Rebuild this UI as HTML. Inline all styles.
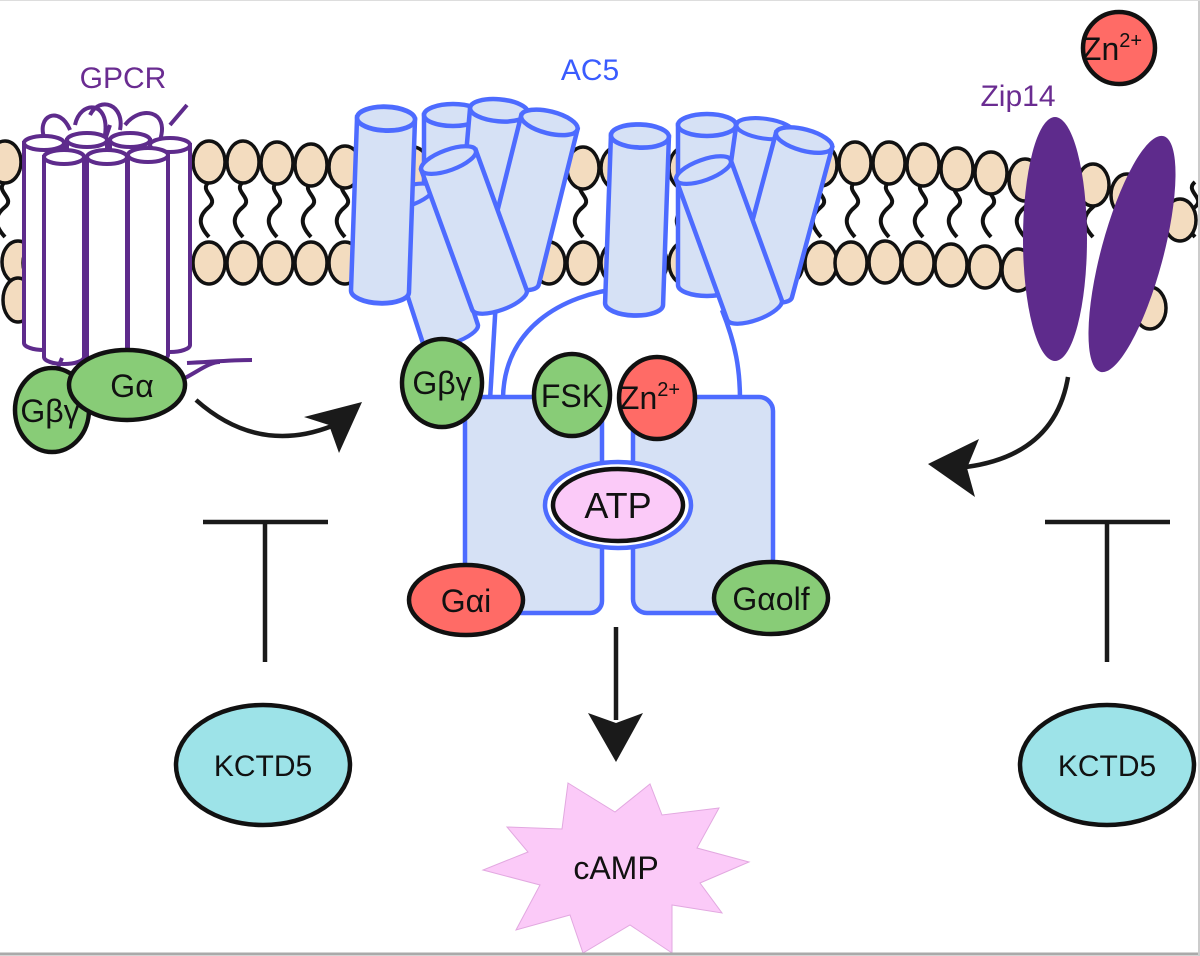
<!DOCTYPE html>
<html><head><meta charset="utf-8"><style>
html,body{margin:0;padding:0;background:#fff}
svg{display:block}
text{font-family:"Liberation Sans",sans-serif}
</style></head><body>
<svg width="1200" height="956" viewBox="0 0 1200 956" xmlns="http://www.w3.org/2000/svg">
<defs>
<g id="head"><ellipse cx="0" cy="0" rx="16" ry="21" fill="#f3dcbf" stroke="#111" stroke-width="3.5"/></g>
<path id="tail" d="M0,182 c-11,9 11,16 0,25 s-11,18 0,30" fill="none" stroke="#111" stroke-width="4"/>
<g id="cyl" fill="#d6e1f5" stroke="#4d6bff" stroke-width="4.5">
<path d="M-29,-80 L-29,80 A29,11 0 0 0 29,80 L29,-80 Z"/>
<ellipse cx="0" cy="-80" rx="29" ry="11"/>
</g>
<g id="pcyl" fill="#fff" stroke="#5e2b8c" stroke-width="4">
<path d="M-20,-100 L-20,100 A20,7 0 0 0 20,100 L20,-100 Z"/>
<ellipse cx="0" cy="-100" rx="20" ry="7"/>
</g>
</defs>
<rect x="0" y="0" width="1200" height="956" fill="#fff"/>

<!-- membrane tails -->
<g>
<use href="#tail" x="5"/><use href="#tail" x="39"/><use href="#tail" x="73"/><use href="#tail" x="107"/><use href="#tail" x="141"/><use href="#tail" x="175"/><use href="#tail" x="209"/><use href="#tail" x="243"/><use href="#tail" x="277"/><use href="#tail" x="311"/><use href="#tail" x="345"/><use href="#tail" x="379"/><use href="#tail" x="413"/><use href="#tail" x="447"/><use href="#tail" x="481"/><use href="#tail" x="515"/><use href="#tail" x="549"/><use href="#tail" x="583"/><use href="#tail" x="617"/><use href="#tail" x="651"/><use href="#tail" x="685"/><use href="#tail" x="719"/><use href="#tail" x="753"/><use href="#tail" x="787"/><use href="#tail" x="821"/><use href="#tail" x="855"/><use href="#tail" x="889"/><use href="#tail" x="923"/><use href="#tail" x="957"/><use href="#tail" x="991"/><use href="#tail" x="1025"/><use href="#tail" x="1059"/><use href="#tail" x="1093"/><use href="#tail" x="1127"/><use href="#tail" x="1161"/><use href="#tail" x="1195"/>
</g>
<!-- heads top row -->
<g>
<use href="#head" x="5" y="162"/><use href="#head" x="39" y="162"/><use href="#head" x="73" y="162"/><use href="#head" x="107" y="162"/><use href="#head" x="141" y="162"/><use href="#head" x="175" y="162"/><use href="#head" x="209" y="162"/><use href="#head" x="243" y="162"/><use href="#head" x="277" y="163"/><use href="#head" x="311" y="165"/><use href="#head" x="345" y="167"/><use href="#head" x="379" y="168"/><use href="#head" x="413" y="168"/><use href="#head" x="447" y="168"/><use href="#head" x="481" y="168"/><use href="#head" x="515" y="168"/><use href="#head" x="549" y="168"/><use href="#head" x="583" y="168"/><use href="#head" x="617" y="168"/><use href="#head" x="651" y="168"/><use href="#head" x="685" y="168"/><use href="#head" x="719" y="168"/><use href="#head" x="753" y="168"/><use href="#head" x="787" y="168"/><use href="#head" x="821" y="165"/><use href="#head" x="855" y="163"/><use href="#head" x="889" y="163"/><use href="#head" x="923" y="165"/><use href="#head" x="957" y="169"/><use href="#head" x="991" y="173"/><use href="#head" x="1025" y="180"/><use href="#head" x="1059" y="182"/><use href="#head" x="1093" y="185"/><use href="#head" x="1127" y="195"/><use href="#head" x="1180" y="220"/>
</g>
<!-- heads bottom row -->
<g>
<use href="#head" x="18" y="262"/><use href="#head" x="39" y="263"/><use href="#head" x="73" y="263"/><use href="#head" x="107" y="263"/><use href="#head" x="141" y="263"/><use href="#head" x="175" y="263"/><use href="#head" x="209" y="263"/><use href="#head" x="243" y="263"/><use href="#head" x="277" y="263"/><use href="#head" x="311" y="263"/><use href="#head" x="345" y="263"/><use href="#head" x="379" y="263"/><use href="#head" x="413" y="263"/><use href="#head" x="447" y="263"/><use href="#head" x="481" y="263"/><use href="#head" x="515" y="263"/><use href="#head" x="549" y="263"/><use href="#head" x="583" y="263"/><use href="#head" x="617" y="263"/><use href="#head" x="651" y="263"/><use href="#head" x="685" y="263"/><use href="#head" x="719" y="263"/><use href="#head" x="753" y="263"/><use href="#head" x="787" y="263"/><use href="#head" x="821" y="263"/><use href="#head" x="851" y="263"/><use href="#head" x="885" y="262"/><use href="#head" x="918" y="263"/><use href="#head" x="951" y="265"/><use href="#head" x="985" y="267"/><use href="#head" x="1018" y="270"/><use href="#head" x="1048" y="272"/><use href="#head" x="1150" y="308"/>
</g>
<ellipse cx="18" cy="300" rx="15" ry="22" fill="#f3dcbf" stroke="#111" stroke-width="3.5"/>

<!-- GPCR -->
<g fill="none" stroke="#5e2b8c" stroke-width="4">
<path d="M45,140 C35,115 60,105 70,130 M75,125 C80,100 110,100 105,135 M90,115 C100,95 125,105 120,130 M125,125 C140,105 170,110 160,140 M170,125 L187,105 M100,155 L110,125"/>
</g>
<use href="#pcyl" x="44" y="243"/>
<use href="#pcyl" x="87" y="240"/>
<use href="#pcyl" x="130" y="240"/>
<use href="#pcyl" x="170" y="245"/>
<use href="#pcyl" x="64" y="257"/>
<use href="#pcyl" x="107" y="257"/>
<use href="#pcyl" x="148" y="255"/>
<g fill="none" stroke="#5e2b8c" stroke-width="4">
<path d="M187,363 C210,362 230,360 252,360"/>
<path d="M185,378 C200,370 210,362 220,362"/>
<path d="M62,358 L55,375"/>
</g>
<text x="123" y="88" font-size="30" fill="#6a2c91" text-anchor="middle">GPCR</text>

<!-- AC5 arch/stalks (behind cylinders) -->
<g fill="none" stroke="#4d6bff" stroke-width="4.5">
<path d="M496,300 L490,400"/>
<path d="M503,400 C503,330 560,294 625,288"/>
<path d="M722,310 C736,345 740,370 740,400"/>
</g>

<!-- AC5 cylinders left group -->
<use href="#cyl" transform="translate(453,195)"/>
<use href="#cyl" transform="translate(492,190) rotate(5)"/>
<use href="#cyl" transform="translate(530,200) rotate(14)"/>
<use href="#cyl" transform="translate(428,265) rotate(-18) scale(1,0.9)"/>
<use href="#cyl" transform="translate(383,205) rotate(2) scale(1,1.08)"/>
<use href="#cyl" transform="translate(474,230) rotate(-20) scale(1,0.93)"/>
<!-- right group -->
<use href="#cyl" transform="translate(707,205)"/>
<use href="#cyl" transform="translate(755,200) rotate(8) scale(1,0.9)"/>
<use href="#cyl" transform="translate(784,215) rotate(15) scale(1,0.97)"/>
<use href="#cyl" transform="translate(637,220) rotate(2) scale(1,1.05)"/>
<use href="#cyl" transform="translate(729,240) rotate(-20) scale(1,0.93)"/>

<text x="590" y="80" font-size="30" fill="#3a5cff" text-anchor="middle">AC5</text>

<!-- AC5 body -->
<rect x="465" y="397" width="137" height="216" rx="12" fill="#d6e1f5" stroke="#4d6bff" stroke-width="4.5"/>
<rect x="633" y="397" width="140" height="216" rx="14" fill="#d6e1f5" stroke="#4d6bff" stroke-width="4.5"/>
<rect x="605" y="420" width="25" height="200" fill="#fff"/>
<ellipse cx="618" cy="505" rx="73" ry="43" fill="#fff" stroke="#4d6bff" stroke-width="4.5"/>
<ellipse cx="618" cy="505" rx="65" ry="36" fill="#fbcaf8" stroke="#111" stroke-width="4.5"/>
<text x="618" y="518" font-size="36" text-anchor="middle" fill="#111">ATP</text>

<!-- Zip14 -->
<ellipse cx="1055" cy="239" rx="32" ry="122" fill="#5e2b8c"/>
<ellipse cx="1132" cy="254" rx="31" ry="122" fill="#5e2b8c" transform="rotate(15 1132 254)"/>
<text x="1018" y="106" font-size="30" fill="#6a2c91" text-anchor="middle">Zip14</text>

<!-- Balls -->
<g stroke="#111" stroke-width="4.5">
<ellipse cx="52" cy="410" rx="37" ry="42" fill="#88cc77"/>
<ellipse cx="127" cy="385" rx="58" ry="35" fill="#88cc77"/>
<ellipse cx="442" cy="383" rx="40" ry="44" fill="#88cc77"/>
<ellipse cx="572" cy="395" rx="38" ry="41" fill="#88cc77"/>
<ellipse cx="657" cy="398" rx="38" ry="41" fill="#ff6b66"/>
<ellipse cx="466" cy="600" rx="57" ry="35" fill="#ff6b66"/>
<ellipse cx="771" cy="598" rx="57" ry="36" fill="#88cc77"/>
<ellipse cx="1119" cy="48" rx="36" ry="36" fill="#ff6b66"/>
<ellipse cx="263" cy="765" rx="87" ry="60" fill="#9de3e8"/>
<ellipse cx="1107" cy="765" rx="87" ry="60" fill="#9de3e8"/>
</g>
<g font-size="32" fill="#111" text-anchor="middle">
<text x="132" y="397">Gα</text>
<text x="50" y="422">Gβγ</text>
<text x="442" y="394">Gβγ</text>
<text x="572" y="407">FSK</text>
<text x="650" y="409">Zn<tspan font-size="20" dy="-13">2+</tspan></text>
<text x="466" y="612">Gαi</text>
<text x="771" y="610">Gαolf</text>
<text x="1112" y="60">Zn<tspan font-size="20" dy="-13">2+</tspan></text>
<text x="263" y="776" font-size="30">KCTD5</text>
<text x="1107" y="776" font-size="30">KCTD5</text>
</g>

<!-- arrows -->
<g fill="none" stroke="#1a1a1a" stroke-width="4.5">
<path d="M196,400 Q258,455 332,426"/>
<path d="M1068,377 Q1055,455 966,467"/>
<path d="M616,627 L616,720"/>
<path d="M203,522 L328,522 M265,522 L265,662"/>
<path d="M1045,522 L1170,522 M1107,522 L1107,662"/>
</g>
<g fill="#1a1a1a">
<polygon points="362,402 304,417 329,425 339,453"/>
<polygon points="928,464 979,439 967,468 975,497"/>
<polygon points="616,762 588,713 616,723 643,713"/>
</g>

<!-- cAMP -->
<polygon points="568,783 615,812 650,784 662,815 719,808 697,848 749,862 700,883 722,913 672,905 672,953 630,925 583,953 570,915 516,930 540,885 483,870 528,852 507,827 562,829" fill="#fbcaf8" stroke="#e2a8e0" stroke-width="1"/>
<text x="616" y="879" font-size="32" text-anchor="middle" fill="#111">cAMP</text>

<!-- border -->
<line x1="0" y1="954" x2="1200" y2="954" stroke="#aaa" stroke-width="3"/>
<line x1="1199" y1="0" x2="1199" y2="956" stroke="#ccc" stroke-width="2"/>
<line x1="0" y1="0.5" x2="1200" y2="0.5" stroke="#ddd" stroke-width="1"/>
</svg>
</body></html>
